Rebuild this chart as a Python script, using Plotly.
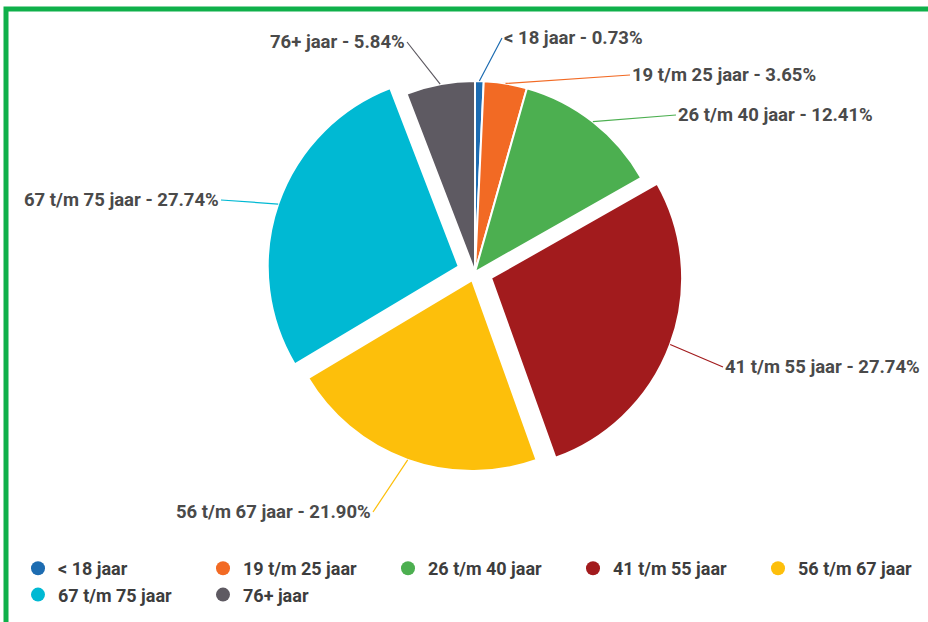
import math
import plotly.graph_objects as go

# ---- data -------------------------------------------------------------
categories = ["< 18 jaar", "19 t/m 25 jaar", "26 t/m 40 jaar", "41 t/m 55 jaar",
              "56 t/m 67 jaar", "67 t/m 75 jaar", "76+ jaar"]
percentages = [0.73, 3.65, 12.41, 27.74, 21.90, 27.74, 5.84]

# ---- styling ----------------------------------------------------------
colors = ["#1d6cb1", "#f26a24", "#4caf50", "#a21b1d", "#fdbf0b", "#00b9d3", "#5e5a62"]
pulls = [0, 0, 0, 0.09, 0.045, 0.09, 0]
# label tail positions (px) and anchoring
label_tail = [(502, 38, "left"), (630, 75, "left"), (676, 115, "left"),
              (723, 367, "left"), (373, 512, "right"), (221, 200, "right"),
              (407, 42, "right")]

W, H = 928, 622
cx, cy, R = 475, 272, 191          # pie centre and radius (px)
half = R * (1 + max(pulls))
dom_x = [(cx - half) / W, (cx + half) / W]
dom_y = [1 - (cy + half) / H, 1 - (cy - half) / H]

LABEL_FONT = dict(family="Roboto", size=18.5, color="#4a4a4a", weight="bold")

fig = go.Figure()
fig.add_trace(go.Pie(
    labels=categories, values=percentages, sort=False, direction="clockwise",
    rotation=0, pull=pulls, textinfo="none", hoverinfo="label+percent",
    marker=dict(colors=colors, line=dict(color="white", width=2)),
    domain=dict(x=dom_x, y=dom_y), showlegend=False,
))

# legend entries with round markers
for name, col in zip(categories, colors):
    fig.add_trace(go.Scatter(x=[None], y=[None], mode="markers", name=name,
                             marker=dict(size=14, color=col, symbol="circle"),
                             showlegend=True, hoverinfo="skip"))

# outside labels with leader lines, anchored on slice mid-angles
total = sum(percentages)
cum = 0.0
annotations = []
for name, val, col, p, (tx, ty, anc) in zip(categories, percentages, colors, pulls, label_tail):
    mid = (cum + val / 2) / total * 2 * math.pi
    cum += val
    dist = R * (1 + p)
    px = cx + dist * math.sin(mid)
    py = cy - dist * math.cos(mid)
    annotations.append(dict(
        x=px / W, y=1 - py / H, xref="paper", yref="paper",
        text=f"{name} - {val:.2f}%", showarrow=True, arrowhead=0,
        arrowwidth=1.2, arrowcolor=col, ax=tx - px, ay=ty - py,
        xanchor=anc, yanchor="middle", font=LABEL_FONT,
    ))

fig.update_layout(
    width=W, height=H,
    margin=dict(l=0, r=0, t=0, b=0, autoexpand=False),
    paper_bgcolor="white", plot_bgcolor="white",
    xaxis=dict(visible=False), yaxis=dict(visible=False),
    annotations=annotations,
    shapes=[dict(type="rect", xref="paper", yref="paper",
                 x0=6 / W, x1=1.2, y0=-0.2, y1=1 - 9 / H,
                 line=dict(color="#0fb04a", width=5), layer="above")],
    legend=dict(orientation="h", x=18 / W, xanchor="left", y=1 - 550 / H, yanchor="top",
                entrywidth=140, entrywidthmode="pixels", traceorder="normal",
                itemsizing="trace", bgcolor="rgba(0,0,0,0)", tracegroupgap=0,
                font=dict(family="Roboto", size=18, color="#3d3d3d", weight="bold")),
)

fig.write_html("out.html", config={"displayModeBar": False},
               post_script="document.body.style.margin='0';")
